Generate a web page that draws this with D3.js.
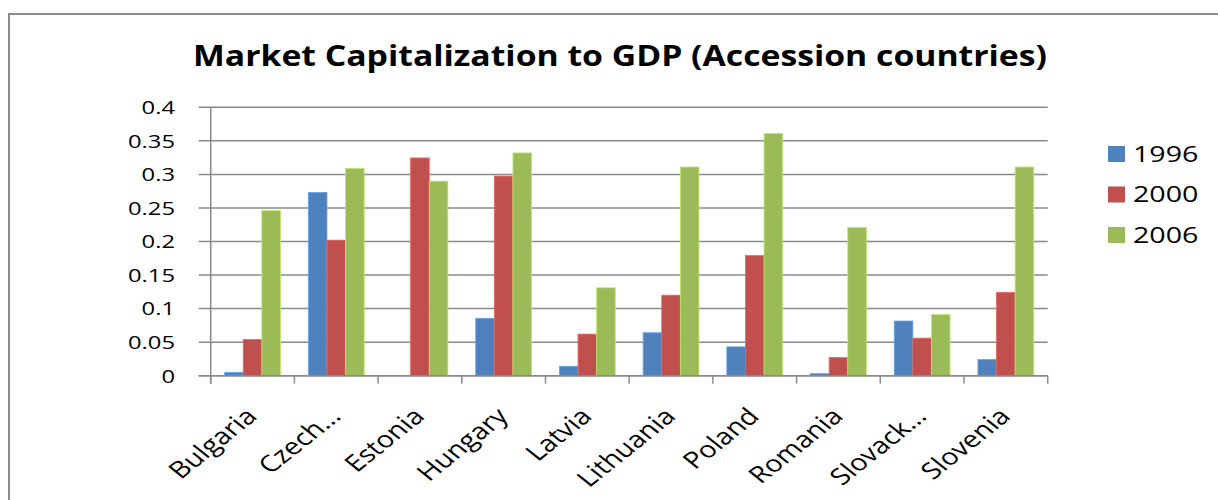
<!DOCTYPE html>
<html>
<head>
<meta charset="utf-8">
<script src="https://cdn.jsdelivr.net/npm/d3@7"></script>
<style>
  html, body { margin: 0; padding: 0; background: #fff; }
  svg { display: block; }
  text { font-family: "Open Sans", "Noto Sans", sans-serif; fill: #000; }
</style>
</head>
<body>
<svg id="chart" width="1218" height="500"></svg>
<script>
// Market capitalization as a share of GDP, accession countries
const countries = ["Bulgaria", "Czech Republic", "Estonia", "Hungary", "Latvia",
                   "Lithuania", "Poland", "Romania", "Slovack Republic", "Slovenia"];
const countryLabels = ["Bulgaria", "Czech…", "Estonia", "Hungary", "Latvia",
                       "Lithuania", "Poland", "Romania", "Slovack…", "Slovenia"];
const years = ["1996", "2000", "2006"];
const values1996 = [0.005, 0.273, 0.000, 0.0855, 0.014, 0.064, 0.043, 0.003, 0.0815, 0.024];
const values2000 = [0.054, 0.202, 0.3245, 0.2975, 0.062, 0.120, 0.179, 0.027, 0.056, 0.124];
const values2006 = [0.246, 0.309, 0.290, 0.332, 0.131, 0.311, 0.361, 0.221, 0.091, 0.311];
const yTicks = [0, 0.05, 0.1, 0.15, 0.2, 0.25, 0.3, 0.35, 0.4];
const seriesColors = ["#4F81BD", "#C0504D", "#9BBB59"];

const series = [values1996, values2000, values2006];

const svg = d3.select("#chart");
const plot = { left: 210.7, right: 1047.7, top: 107.3, bottom: 375.7 };
const stretch = 1.25;   // wide lettering used throughout the chart

// outer chart frame
svg.append("rect")
  .attr("x", 9).attr("y", 14)
  .attr("width", 1230).attr("height", 520)
  .attr("fill", "#fff").attr("stroke", "#8c8c8c").attr("stroke-width", 2);

// title
svg.append("text")
  .attr("x", 620).attr("y", 66)
  .attr("text-anchor", "middle")
  .attr("font-size", 28).attr("font-weight", "bold")
  .attr("textLength", 854).attr("lengthAdjust", "spacingAndGlyphs")
  .text("Market Capitalization to GDP (Accession countries)");

const x = d3.scaleBand().domain(countries).range([plot.left, plot.right])
  .paddingInner(0).paddingOuter(0);
// three bars per category with a 150% gap between groups
const x1 = d3.scaleBand().domain(years)
  .range([0, x.bandwidth()])
  .paddingOuter(0.75).paddingInner(0);

const y = d3.scaleLinear().domain([0, 0.4]).range([plot.bottom, plot.top]);

// gridlines
svg.append("g").selectAll("line").data(yTicks).join("line")
  .attr("x1", plot.left - 12).attr("x2", plot.right)
  .attr("y1", d => y(d)).attr("y2", d => y(d))
  .attr("stroke", "#8a8a8a").attr("stroke-width", 1.5);

// y tick labels
svg.append("g").selectAll("text").data(yTicks).join("text")
  .attr("transform", d => `translate(175,${y(d)}) scale(${stretch},1)`)
  .attr("text-anchor", "end").attr("dy", "0.36em")
  .attr("font-size", 19)
  .text(d => d3.format("")(+d.toFixed(2)));

// bars
const groups = svg.append("g").selectAll("g")
  .data(countries)
  .join("g")
  .attr("transform", d => `translate(${x(d)},0)`);
groups.selectAll("rect")
  .data((d, i) => years.map((yr, k) => ({ yr, v: series[k][i], k })))
  .join("rect")
  .attr("x", d => x1(d.yr))
  .attr("width", x1.bandwidth())
  .attr("y", d => y(d.v))
  .attr("height", d => plot.bottom - y(d.v))
  .attr("fill", d => seriesColors[d.k])
  .attr("stroke", d => d3.color(seriesColors[d.k]).brighter(0.6))
  .attr("stroke-width", 0.8);

// y axis line
svg.append("line")
  .attr("x1", plot.left).attr("x2", plot.left)
  .attr("y1", plot.top).attr("y2", plot.bottom + 8)
  .attr("stroke", "#8a8a8a").attr("stroke-width", 1.5);

// x axis
svg.append("line")
  .attr("x1", plot.left - 12).attr("x2", plot.right)
  .attr("y1", plot.bottom).attr("y2", plot.bottom)
  .attr("stroke", "#8a8a8a").attr("stroke-width", 1.5);
const edges = countries.map(c => x(c)).concat([plot.right]);
svg.append("g").selectAll("line").data(edges).join("line")
  .attr("x1", d => d).attr("x2", d => d)
  .attr("y1", plot.bottom).attr("y2", plot.bottom + 8)
  .attr("stroke", "#8a8a8a").attr("stroke-width", 1.5);

// rotated category labels
svg.append("g").selectAll("text").data(countries).join("text")
  .attr("transform", d => `translate(${x(d) + x.bandwidth() / 2 + 6},${plot.bottom + 42}) scale(${stretch},1) rotate(-45)`)
  .attr("text-anchor", "end")
  .attr("font-size", 23)
  .text((d, i) => countryLabels[i]);

// legend
const legend = svg.append("g").selectAll("g").data(years).join("g")
  .attr("transform", (d, i) => `translate(1108,${154 + i * 40.5})`);
legend.append("rect")
  .attr("x", 0).attr("y", -8).attr("width", 17).attr("height", 16)
  .attr("fill", (d, i) => seriesColors[i]);
legend.append("text")
  .attr("transform", `translate(25,0) scale(1.3,1)`)
  .attr("dy", "0.36em")
  .attr("font-size", 22)
  .text(d => d);
</script>
</body>
</html>
